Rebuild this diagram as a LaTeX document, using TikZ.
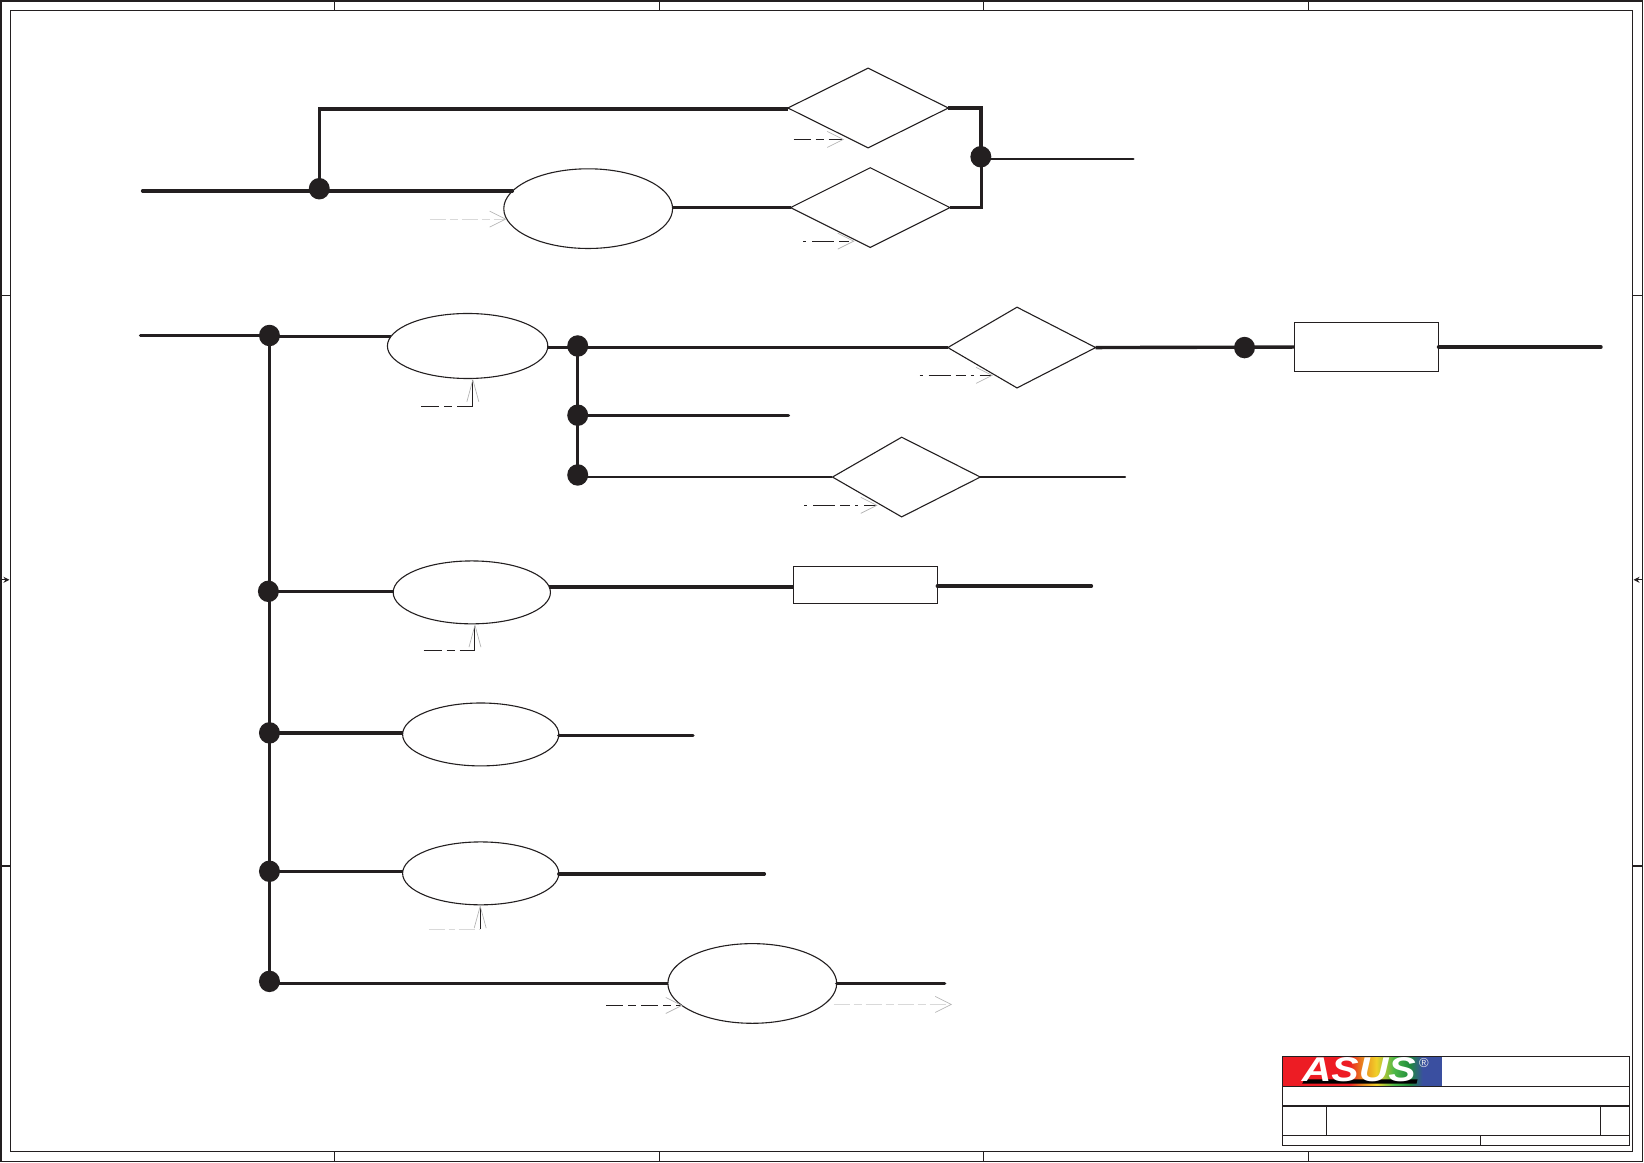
\documentclass[tikz,border=0pt]{standalone}
\usepackage{fontspec}
\newfontfamily\logofont{Liberation Sans}
\usetikzlibrary{shapes.geometric,arrows.meta}
\definecolor{ink}{HTML}{231F20}
\definecolor{faint}{HTML}{D9D9D9}
\definecolor{headgrey}{HTML}{B5B5B5}
\definecolor{logored}{HTML}{ED1C24}
\definecolor{logoorange}{HTML}{E8841E}
\definecolor{logoyellow}{HTML}{F2D02A}
\definecolor{logogreen}{HTML}{4DB848}
\definecolor{logodkgreen}{HTML}{1F8A3C}
\definecolor{logoblue}{HTML}{3A4FA0}
\def\ulen{0.52425pt}
\pgfdeclarehorizontalshading{asusband}{100bp}{
 color(0bp)=(logored); color(46bp)=(logored); color(50bp)=(logoorange);
 color(54.5bp)=(logoyellow); color(60bp)=(logogreen);
 color(65bp)=(logodkgreen); color(69bp)=(logoblue); color(100bp)=(logoblue)}
\tikzset{
 outline/.style={draw=ink,line width=0.55pt,fill=white,inner sep=0pt,outer sep=0pt},
 oval/.style 2 args={ellipse,outline,minimum width=#1*\ulen,minimum height=#2*\ulen},
 gate/.style 2 args={diamond,outline,minimum width=#1*\ulen,minimum height=#2*\ulen},
 gatebox/.style 2 args={diamond,inner sep=0pt,outer sep=0pt,minimum width=#1*\ulen,minimum height=#2*\ulen},
 block/.style 2 args={rectangle,outline,minimum width=#1*\ulen,minimum height=#2*\ulen},
 dot/.style={ellipse,fill=ink,inner sep=0pt,outer sep=0pt,minimum width=20*\ulen,minimum height=20.5*\ulen},
 bus/.style={draw=ink,line width=1.7pt},
 wire/.style={draw=ink,line width=1.15pt},
 framing/.style={draw=ink,line width=0.65pt},
 ctl/.style={draw=ink,line width=0.5pt,dash pattern=on 8.5pt off 2.5pt on 4pt off 2.5pt,
   -{Straight Barb[length=8pt,width=8pt,color=headgrey,line width=0.35pt]}},
 ctlalt/.style={draw=ink,line width=0.5pt,dash pattern=on 1.5pt off 3pt on 11pt off 2.5pt on 5pt off 2.5pt,
   -{Straight Barb[length=8pt,width=8pt,color=headgrey,line width=0.35pt]}},
 ctlbend/.style={draw=ink,line width=0.5pt,-{Straight Barb[length=11pt,width=6pt,color=headgrey,line width=0.35pt]}},
 dashseg/.style={draw=ink,line width=0.5pt,dash pattern=on 9pt off 2.5pt on 4pt off 2.5pt},
 ctlfaint/.style={draw=faint,line width=0.5pt,dash pattern=on 8pt off 2pt on 4pt off 2pt,
   -{Straight Barb[length=8pt,width=8pt,color=headgrey,line width=0.35pt]}},
 dashfaint/.style={draw=faint,line width=0.8pt,dash pattern=on 8pt off 2pt on 3pt off 2pt},
 tick/.style={draw=ink,line width=0.65pt},
 tickarrow/.style={draw=ink,line width=0.5pt,-{Stealth[length=3pt,width=3pt]}},
}
\begin{document}
\begin{tikzpicture}[x=0.52425pt,y=-0.52425pt]
\useasboundingbox (0,0) rectangle (1568,1109.24);
% sheet frame
\draw[framing] (1,1) rectangle (1566.5,1107.8);
\draw[framing] (10,10) rectangle (1557,1098.5);
\foreach \px in {319,629,938,1248}{
  \draw[tick] (\px,1) -- (\px,10);
  \draw[tick] (\px,1098.5) -- (\px,1107.8);}
\foreach \py in {282,826}{
  \draw[tick] (1,\py) -- (10,\py);
  \draw[tick] (1557,\py) -- (1566.5,\py);}
\draw[tickarrow] (1,553) -- (9,553);
\draw[tickarrow] (1566.5,553) -- (1558,553);
% title block
\shade[shading=asusband] (1223,1007.5) rectangle (1375,1036);
\fill[black] (1244,1029.5) -- (1352,1029.5) -- (1351,1033.5) -- (1242,1033.5) -- cycle;
\node[text=white,inner sep=0pt] (logo) at (1296,1020.5) {\resizebox{57pt}{12pt}{\logofont\bfseries\itshape ASUS}};
\node[text=white!85!gray,inner sep=0pt] (regmark) at (1358,1013.5) {\logofont\fontsize{6.5}{6.5}\selectfont ®};
\draw[framing] (1223,1007.5) rectangle (1554.3,1092.3);
\draw[framing] (1223,1036) -- (1554.3,1036);
\draw[framing] (1223,1055) -- (1554.3,1055);
\draw[framing] (1223,1082.8) -- (1554.3,1082.8);
\draw[framing] (1265.3,1055) -- (1265.3,1082.8);
\draw[framing] (1526.3,1055) -- (1526.3,1082.8);
\draw[framing] (1412.2,1082.8) -- (1412.2,1092.3);
% shapes
\node[gate={153}{76}] (gA) at (828,103) {};
\node[gate={152}{76}] (gB) at (830,198) {};
\node[oval={161}{76}] (eA) at (561,199) {};
\node[gatebox={141}{77}] (gC) at (974.5,331.5) {};
\node[gatebox={141}{76}] (gD) at (864.5,455) {};
\draw[outline] (gC.west) -- (970,293) -- (gC.east) -- (970,370) -- cycle;
\draw[outline] (gD.west) -- (860,417) -- (gD.east) -- (860,493) -- cycle;
\node[block={137}{46}] (bA) at (1303.5,331) {};
\node[block={137}{36}] (bB) at (825.5,558) {};
\node[oval={153}{62}] (eB) at (446,330) {};
\node[oval={150}{60}] (eC) at (450,565) {};
\node[oval={149}{60}] (eD) at (458.5,700.5) {};
\node[oval={149}{60}] (eE) at (458.5,833) {};
\node[oval={161}{76}] (eF) at (717.5,938) {};
% junctions
\node[dot] (jA) at (304.5,180) {};
\node[dot] (jB) at (935.5,149.5) {};
\node[dot] (jC) at (257,320) {};
\node[dot] (jD) at (551,330) {};
\node[dot] (jE) at (551,396) {};
\node[dot] (jF) at (551,453) {};
\node[dot] (jG) at (1187,331.5) {};
\node[dot] (jH) at (256,564) {};
\node[dot] (jI) at (257,699) {};
\node[dot] (jJ) at (257,831) {};
\node[dot] (jK) at (257,936) {};
% free ends
\coordinate (inA) at (136,182);
\coordinate (inB) at (134,320);
\coordinate (outA) at (1081,151.5);
\coordinate (outB) at (752,396.5);
\coordinate (outC) at (1073,455);
\coordinate (outD) at (1527,331);
\coordinate (outE) at (1041,559);
\coordinate (outF) at (661,701.5);
\coordinate (outG) at (729,833.5);
\coordinate (outH) at (901,938);
\coordinate (busTop) at (304.5,104);
% first group
\draw[bus,line cap=round] (inA) -- (inA -| eA.167);
\draw[bus] (jA.center) -- (busTop) -- (busTop -| gA.west);
\draw[bus] (eA.east |- gB.west) -- (gB.west);
\draw[bus] (gA.east) -- ++(31,0) coordinate (cA) -- (cA |- jB.center);
\draw[bus] (gB.east) -- ++(30,0) coordinate (cB) -- (cB |- jB.center);
\draw[wire,line cap=round] (jB.center) ++(0,2) -- (outA);
% second group
\draw[bus,line cap=round] (inB) -- (jC.center);
\draw[bus] (jC.center |- eB.173) -- (eB.173);
\draw[bus] (jC.center) -- (jK.center);
\draw[bus] (eB.east |- gC.west) -- (gC.west);
\draw[bus] (jD.center) -- (jF.center);
\draw[bus,line cap=round] (jE.center) ++(0,0.5) -- (outB);
\draw[wire] (jF.center) ++(0,2) -- (gD.west);
\draw[wire,line cap=round] (gD.east) -- (outC);
\draw[bus] (gC.east) -- (bA.west);
\draw[bus,line cap=round] (bA.east) -- (outD);
% third group
\draw[bus] (jH.center) -- (jH.center -| eC.west);
\draw[bus] (eC.4.7) -- (bB.west |- eC.4.7);
\draw[bus,line cap=round] (bB.east |- outE) -- (outE);
\draw[bus] (jI.center) -- (jI.center -| eD.west);
\draw[bus,line cap=round] (eD.east |- outF) -- (outF);
\draw[bus] (jJ.center) -- (jJ.center -| eE.west);
\draw[bus,line cap=round] (eE.east |- outG) -- (outG);
\draw[bus] (jK.center) ++(0,2) -- (eF.west);
\draw[bus,line cap=round] (eF.east) -- (outH);
% control arrows
\coordinate (ctA) at (757,133); \coordinate (ctAe) at (805,133);
\coordinate (ctB) at (766,230); \coordinate (ctBe) at (815,230);
\coordinate (ctC) at (410,209); \coordinate (ctCe) at (483,209);
\coordinate (ctD) at (877,358); \coordinate (ctDe) at (947,358);
\coordinate (ctE) at (767,482); \coordinate (ctEe) at (837,482);
\coordinate (ctF) at (578,959); \coordinate (ctFe) at (651,959);
\coordinate (ctG) at (795,958); \coordinate (ctGe) at (908,958);
\draw[ctl] (ctA) -- (ctAe);
\draw[ctlalt] (ctB) -- (ctBe);
\draw[ctlfaint] (ctC) -- (ctCe);
\draw[ctlalt] (ctD) -- (ctDe);
\draw[ctlalt] (ctE) -- (ctEe);
\draw[ctl] (ctF) -- (ctFe);
\draw[ctlfaint] (ctG) -- (ctGe);
\coordinate (ctH) at (402,387.5); \coordinate (ctHb) at (451,387.5);
\coordinate (ctI) at (404,620.5); \coordinate (ctIb) at (453,620.5);
\coordinate (ctJ) at (409,886.5); \coordinate (ctJb) at (458,886.5);
\draw[dashseg] (ctH) -- (ctHb);
\draw[ctlbend] (ctHb) -- (eB.south -| ctHb) ;
\draw[dashseg] (ctI) -- (ctIb);
\draw[ctlbend] (ctIb) -- (eC.south -| ctIb);
\draw[dashfaint] (ctJ) -- (ctJb);
\draw[ctlbend] (ctJb) -- (eE.south -| ctJb);
\end{tikzpicture}
\end{document}
